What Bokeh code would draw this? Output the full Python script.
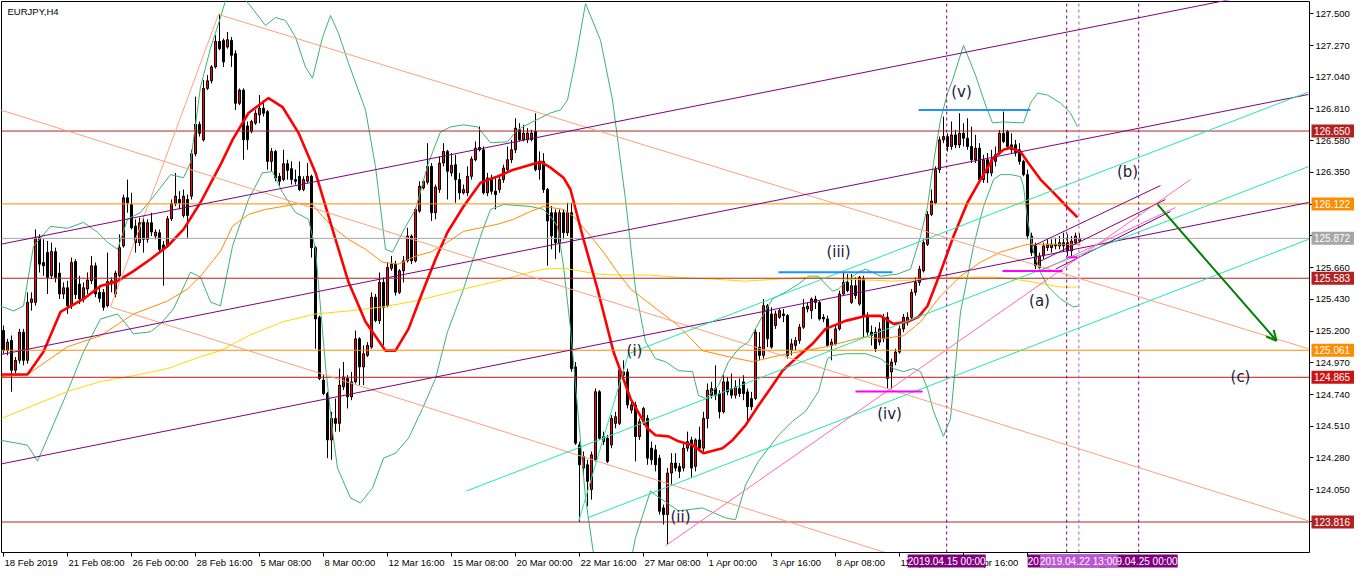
from bokeh.plotting import figure
from bokeh.models import (ColumnDataSource, FixedTicker, PrintfTickFormatter, Arrow, OpenHead, Range1d)
from bokeh.core.properties import value
from bokeh.embed import file_html
from bokeh.resources import INLINE

# ---------------- DATA (EURJPY H4, bar index = time) ----------------
opens = [125.204,125.060,125.132,124.916,124.988,125.192,124.988,125.408,125.408,125.877,
 125.697,125.769,125.601,125.776,125.620,125.469,125.514,125.384,125.704,125.541,
 125.433,125.505,125.565,125.673,125.481,125.481,125.384,125.541,125.469,125.601,
 125.817,126.166,126.118,125.961,125.841,125.990,125.865,125.985,125.889,125.913,
 125.824,125.817,126.014,126.125,126.154,126.038,126.154,126.178,126.485,126.699,
 126.586,126.959,127.014,127.115,127.300,127.307,127.259,127.307,127.211,126.851,
 126.947,126.687,126.646,126.707,126.767,126.815,126.791,126.430,126.502,126.322,
 126.298,126.413,126.377,126.298,126.322,126.226,126.286,126.322,125.805,125.300,
 124.844,124.747,124.411,124.567,124.531,124.796,124.856,124.723,124.832,125.144,
 124.940,125.024,125.084,125.445,125.276,125.553,125.384,125.654,125.685,125.481,
 125.637,125.709,125.889,125.709,126.070,126.238,126.279,126.394,126.058,126.226,
 126.418,126.502,126.346,126.406,126.298,126.202,126.202,126.322,126.442,126.531,
 126.514,126.202,126.310,126.214,126.226,126.298,126.370,126.442,126.514,126.659,
 126.587,126.587,126.587,126.647,126.370,126.430,126.226,126.058,126.058,125.841,
 126.058,125.913,126.058,124.940,124.375,124.207,124.231,124.051,124.267,124.760,
 124.399,124.423,124.375,124.531,124.531,124.880,124.904,124.627,124.664,124.435,
 124.543,124.567,124.351,124.339,124.279,123.918,123.870,124.171,124.243,124.219,
 124.207,124.351,124.411,124.219,124.411,124.351,124.567,124.735,124.783,124.747,
 124.615,124.832,124.783,124.735,124.783,124.832,124.759,124.711,124.711,125.084,
 125.024,125.384,125.324,125.240,125.300,125.324,125.312,125.060,125.096,125.132,
 125.228,125.360,125.348,125.432,125.408,125.300,125.288,125.096,125.108,125.216,
 125.469,125.553,125.408,125.529,125.396,125.577,125.300,125.192,125.192,125.120,
 125.144,125.300,124.904,124.976,125.048,125.216,125.276,125.300,125.481,125.553,
 125.637,125.829,126.045,126.130,126.370,126.586,126.610,126.538,126.622,126.550,
 126.634,126.598,126.538,126.442,126.526,126.298,126.442,126.346,126.430,126.490,
 126.634,126.646,126.550,126.550,126.514,126.430,126.334,125.889,125.817,125.661,
 125.745,125.805,125.805,125.829,125.817,125.841,125.841,125.781,125.841,125.853]
highs = [125.240,125.144,125.168,125.012,125.216,125.216,125.481,125.481,125.937,125.901,
 125.865,125.853,125.841,125.805,125.697,125.553,125.565,125.733,125.721,125.601,
 125.553,125.625,125.745,125.697,125.529,125.505,125.769,125.589,125.637,125.901,
 126.190,126.298,126.202,126.010,126.022,126.034,126.010,126.058,125.937,125.937,
 125.853,126.034,126.154,126.346,126.214,126.226,126.190,126.514,126.899,126.719,
 127.019,127.055,127.127,127.344,127.500,127.320,127.368,127.332,127.235,126.959,
 126.959,126.719,126.731,126.803,126.911,126.875,126.803,126.526,126.514,126.346,
 126.514,126.442,126.430,126.370,126.430,126.322,126.418,126.334,125.817,125.312,
 124.880,124.760,124.615,124.711,124.928,124.976,124.880,124.904,125.204,125.156,
 125.096,125.120,125.481,125.469,125.625,125.589,125.697,125.745,125.709,125.649,
 125.745,125.949,125.901,126.094,126.286,126.298,126.562,126.418,126.262,126.466,
 126.562,126.514,126.490,126.478,126.346,126.262,126.394,126.466,126.574,126.683,
 126.538,126.346,126.334,126.322,126.322,126.406,126.538,126.586,126.743,126.707,
 126.695,126.671,126.659,126.779,126.502,126.490,126.238,126.106,126.082,126.082,
 126.082,126.130,126.130,124.976,124.399,124.327,124.267,124.327,124.784,124.772,
 124.471,124.447,124.591,124.615,124.928,124.988,124.928,124.688,124.688,124.567,
 124.651,124.591,124.399,124.375,124.303,123.942,124.207,124.315,124.315,124.243,
 124.387,124.471,124.435,124.423,124.507,124.615,124.820,124.832,124.952,124.771,
 124.880,124.868,124.892,124.844,124.856,124.880,124.783,124.759,125.216,125.192,
 125.432,125.396,125.372,125.348,125.360,125.360,125.324,125.144,125.156,125.252,
 125.432,125.408,125.444,125.456,125.420,125.324,125.312,125.144,125.240,125.493,
 125.625,125.613,125.613,125.589,125.601,125.601,125.336,125.240,125.228,125.264,
 125.324,125.336,125.000,125.072,125.240,125.324,125.336,125.505,125.589,125.673,
 125.865,126.069,126.226,126.394,126.610,126.755,126.634,126.719,126.658,126.779,
 126.707,126.743,126.682,126.622,126.562,126.478,126.490,126.514,126.538,126.658,
 126.791,126.658,126.634,126.586,126.562,126.442,126.370,125.913,125.841,125.769,
 125.841,125.865,125.865,125.877,125.889,125.913,125.901,125.889,125.913,125.908]
lows = [125.036,125.024,124.760,124.892,124.964,124.952,124.964,125.348,125.384,125.625,
 125.601,125.469,125.577,125.553,125.433,125.433,125.324,125.360,125.433,125.396,
 125.408,125.469,125.541,125.445,125.408,125.348,125.372,125.481,125.445,125.589,
 125.805,126.058,125.937,125.769,125.817,125.769,125.841,125.889,125.865,125.769,
 125.529,125.805,125.998,126.106,126.082,126.022,125.877,126.154,126.466,126.610,
 126.574,126.947,126.995,127.103,127.235,127.115,127.247,127.115,126.803,126.839,
 126.442,126.514,126.634,126.695,126.707,126.755,126.370,126.358,126.286,126.250,
 126.286,126.298,126.262,126.262,126.214,126.214,126.274,125.733,125.072,124.844,
 124.735,124.279,124.267,124.471,124.471,124.772,124.639,124.699,124.820,124.808,
 124.808,125.012,125.072,125.264,125.252,125.096,125.372,125.637,125.457,125.469,
 125.553,125.697,125.685,125.697,126.058,126.226,126.262,125.998,126.010,126.202,
 126.394,126.154,126.322,126.130,126.154,126.190,126.178,126.298,126.430,126.502,
 126.190,126.178,126.190,126.082,126.202,126.274,126.346,126.418,126.490,126.575,
 126.575,126.562,126.575,126.358,126.298,126.202,125.673,125.793,125.721,125.769,
 125.865,125.889,124.904,124.375,123.815,124.159,123.930,123.978,124.255,124.411,
 124.375,124.243,124.351,124.495,124.519,124.856,124.639,124.603,124.255,124.411,
 124.519,124.231,124.231,124.183,123.870,123.798,123.654,124.087,124.183,124.135,
 124.183,124.327,124.135,124.183,124.327,124.327,124.495,124.711,124.699,124.567,
 124.603,124.735,124.711,124.711,124.723,124.699,124.543,124.627,124.699,124.988,
 125.000,125.084,125.072,125.216,125.288,125.264,125.000,125.024,125.060,125.108,
 125.216,125.336,125.288,125.360,125.276,125.264,125.084,124.988,125.096,125.204,
 125.457,125.481,125.396,125.433,125.384,125.156,125.168,125.096,125.048,125.096,
 125.120,124.783,124.783,124.952,125.036,125.192,125.240,125.276,125.457,125.529,
 125.625,125.817,126.033,126.118,126.346,126.562,126.502,126.514,126.526,126.526,
 126.538,126.514,126.418,126.418,126.274,126.274,126.274,126.322,126.394,126.478,
 126.562,126.514,126.490,126.466,126.406,126.322,125.865,125.745,125.649,125.649,
 125.721,125.781,125.769,125.793,125.793,125.781,125.745,125.745,125.829,125.841]
closes = [125.060,125.120,124.916,124.988,125.192,124.988,125.408,125.433,125.877,125.685,
 125.673,125.589,125.776,125.589,125.469,125.514,125.384,125.697,125.464,125.433,
 125.514,125.570,125.673,125.469,125.437,125.372,125.560,125.565,125.620,125.805,
 126.166,126.130,125.949,125.841,125.985,125.865,125.985,125.918,125.918,125.793,
 125.793,126.014,126.125,126.178,126.130,126.178,126.038,126.485,126.699,126.634,
 126.959,127.014,127.115,127.300,127.247,127.151,127.312,127.199,126.851,126.947,
 126.586,126.586,126.719,126.779,126.815,126.779,126.430,126.502,126.310,126.286,
 126.413,126.365,126.298,126.286,126.226,126.298,126.322,125.805,125.288,124.856,
 124.747,124.411,124.567,124.531,124.808,124.868,124.723,124.832,125.144,124.940,
 125.036,125.096,125.445,125.276,125.553,125.372,125.661,125.685,125.481,125.637,
 125.709,125.889,125.709,126.082,126.250,126.286,126.394,126.058,126.245,126.418,
 126.502,126.358,126.401,126.298,126.202,126.226,126.322,126.447,126.526,126.514,
 126.202,126.310,126.214,126.190,126.298,126.382,126.442,126.514,126.671,126.587,
 126.635,126.635,126.635,126.370,126.430,126.226,125.998,125.889,125.841,126.058,
 125.913,126.058,124.928,124.387,124.231,124.291,124.111,124.303,124.760,124.423,
 124.435,124.255,124.567,124.579,124.916,124.904,124.664,124.664,124.435,124.543,
 124.639,124.279,124.267,124.231,123.894,123.870,124.171,124.243,124.207,124.183,
 124.351,124.399,124.207,124.411,124.351,124.567,124.771,124.783,124.735,124.615,
 124.832,124.759,124.735,124.795,124.747,124.747,124.651,124.651,125.192,125.024,
 125.384,125.144,125.084,125.324,125.348,125.312,125.024,125.108,125.132,125.228,
 125.372,125.380,125.432,125.408,125.288,125.288,125.096,125.120,125.216,125.469,
 125.553,125.493,125.529,125.457,125.589,125.312,125.192,125.168,125.072,125.216,
 125.300,124.856,124.976,125.048,125.216,125.300,125.300,125.481,125.553,125.649,
 125.841,126.045,126.142,126.370,126.586,126.610,126.538,126.622,126.550,126.634,
 126.598,126.538,126.442,126.526,126.298,126.442,126.346,126.442,126.478,126.634,
 126.574,126.538,126.514,126.490,126.430,126.334,125.889,125.769,125.673,125.745,
 125.817,125.829,125.829,125.817,125.841,125.817,125.781,125.853,125.889,125.872]

# moving averages and bands, read as (bar, price) points
red_ma_x = [-0.5,6,10,14.25,20,24.25,28.5,32.5,36.75,41,45,49.25,54.25,57.25,61.25,66.25,69.75,73.75,78,82.25,
 86.25,90.5,95.5,98,101.25,104.75,108,111,115,119.25,123.5,127.5,131.75,134.25,136.75,140,141.75,145,148.5,152.5,
 156.75,161,163,166.25,168.75,172.25,175,179.75,182.25,185.5,188.75,192.25,194.75,198,202.25,205.5,210.5,215.5,219.25,222.5,
 226,228.75,231,234.25,237.5,241,244.25,247.5,250,251.75,254.25,256,259.25,262.5,266,268.5]
red_ma_y = [124.885,124.885,125.050,125.339,125.433,125.526,125.562,125.635,125.721,125.815,125.937,126.132,126.406,126.586,126.781,126.889,126.824,126.637,126.348,125.937,
 125.555,125.267,125.058,125.058,125.216,125.483,125.721,125.916,126.103,126.276,126.320,126.370,126.406,126.428,126.385,126.312,126.226,125.865,125.505,125.050,
 124.711,124.495,124.445,124.437,124.401,124.373,124.315,124.351,124.409,124.517,124.661,124.805,124.913,125.000,125.108,125.216,125.274,125.310,125.310,125.252,
 125.267,125.303,125.382,125.627,125.887,126.132,126.298,126.457,126.514,126.529,126.500,126.428,126.298,126.204,126.096,126.024]
orange_ma_x = [-0.5,6,16,24.25,32.5,41,46,49.25,54.25,57.25,61.25,65.5,69.75,73.75,77.25,79.75,83,86.25,90.5,94.75,98.75,
 103,106.75,111,115,123.5,127.5,131.75,135,140,142.5,146,150,153.5,156.75,161,168.75,174.75,181.25,187.25,193.75,
 200.5,205.5,210.5,215.5,219.25,225,229.25,234.25,239.25,244.25,249.25,254.25,256,269.25]
orange_ma_y = [124.870,124.885,125.086,125.166,125.324,125.418,125.505,125.598,125.779,125.959,126.046,126.082,126.103,126.125,126.118,126.031,125.937,125.865,125.793,125.699,125.685,
 125.743,125.772,125.844,125.923,125.974,126.010,126.067,126.103,126.082,126.031,125.916,125.772,125.627,125.505,125.411,125.238,125.058,125.014,124.978,125.022,
 125.058,125.086,125.123,125.159,125.144,125.166,125.267,125.454,125.598,125.699,125.772,125.815,125.829,125.829]
yellow_ma_x = [-0.5,7.5,16,24.25,32.5,41,49.25,54.25,61.25,69.75,78,86.25,94.75,103,108,115,123.5,131.75,135,140,
 144.25,148.5,153.5,161.75,171.25,177.25,185.5,193.75,202.25,210.5,222.5,231,239.25,247.5,252.5,257.5,264.25,268.5]
yellow_ma_y = [124.567,124.661,124.762,124.834,124.877,124.928,125.014,125.058,125.166,125.267,125.324,125.346,125.375,125.418,125.454,125.505,125.562,125.627,125.649,125.656,
 125.635,125.613,125.606,125.606,125.584,125.577,125.562,125.577,125.591,125.577,125.562,125.577,125.591,125.591,125.577,125.555,125.519,125.519]
band_up_x = [-0.75,2.5,5,7.5,11.75,16,20,23.5,26,28.5,31,34.25,38.5,41.75,45,46.75,49.25,51.75,54.25,55.5,
 58.5,61.25,65.5,68,70.5,73,75.5,77.25,79.75,81.75,83.75,86.25,90.5,93,95.5,97.25,99.75,103,106.25,109.25,
 111.75,115,118.5,121.75,126,128.5,131.75,134.25,136.75,139.25,141,143,145.5,149.25,152.25,155.5,158,160.5,163,165.5,
 168.75,172.25,173.75,175.5,178.75,181.25,183.75,186.25,189.75,192.25,195.5,198.75,201.25,203.75,205.5,207.25,208.75,210.5,213.75,215.5,
 219.25,223.5,226.75,229.25,231,232.5,234.25,236,237.25,240,243,245.5,247.25,250,255,256.75,258.5,261,264.25,266.75,268.5]
band_up_y = [125.382,125.346,125.382,125.815,125.959,125.945,125.988,125.916,125.844,125.793,126.010,126.060,126.211,126.334,126.312,126.421,126.969,127.250,127.473,127.596,
 127.668,127.574,127.416,127.473,127.452,127.329,127.113,127.033,127.329,127.488,127.358,127.142,126.803,126.392,125.793,125.772,125.916,126.082,126.421,126.644,
 126.680,126.695,126.680,126.565,126.572,126.659,126.709,126.745,126.781,126.803,126.875,127.163,127.574,127.308,126.875,126.154,125.505,125.123,125.000,124.978,
 124.913,124.906,124.733,124.711,124.805,124.978,125.072,125.123,125.310,125.433,125.483,125.541,125.598,125.598,125.541,125.490,125.505,125.555,125.627,125.649,
 125.598,125.613,125.649,125.887,126.103,126.421,126.731,126.925,127.019,127.271,127.055,126.839,126.709,126.716,126.709,126.853,126.925,126.911,126.853,126.781,126.680]
band_lo_x = [-0.75,6,8.5,11.75,16,20,24.25,28.5,31,32.5,36.75,39.25,42.5,46.75,49.25,51.75,54.25,57.25,61.25,64.75,
 67.25,69.75,73,76.25,78,80.5,82.25,83.5,86.75,89.25,92.25,95,98,101.25,104.75,108,111,115,119.25,121.75,
 125,131.75,135,136.75,138.5,140,141.75,143.75,145.5,148,151.75,155.5,158,161.75,163,168.75,174.75,180.5,183,185.5,
 188.75,193.75,197.25,200.5,203.75,206,207.25,210.5,215.5,219.25,222.5,225,227.5,229.25,231,232.5,235,236.75,239.25,242.5,
 245,247.5,249.25,251.75,254.25,255,256,257.5,259.25,261,264.25,267.5,268.75]
band_lo_y = [124.409,124.373,124.257,124.474,124.762,125.050,125.288,125.324,125.238,125.180,125.195,125.252,125.360,125.627,125.591,125.411,125.382,125.815,126.154,126.348,
 126.356,126.204,126.060,126.010,125.793,124.949,124.474,124.207,123.990,123.954,124.062,124.279,124.315,124.423,124.639,124.856,125.195,125.505,125.887,126.082,
 126.118,126.103,126.082,126.031,125.959,125.671,125.216,124.567,123.990,123.486,123.125,123.341,123.702,124.041,124.012,123.897,123.918,123.846,123.832,124.084,
 124.257,124.445,124.546,124.618,124.762,125.000,125.022,125.036,125.036,125.000,124.928,124.906,124.928,124.906,124.784,124.618,124.437,124.567,125.339,125.815,
 126.103,126.298,126.334,126.334,126.320,126.248,126.010,125.772,125.627,125.526,125.433,125.375,125.382]

# drawn objects: trend lines as (bar, price) end points
purple_x0 = [-0.75, -0.75, -0.75, 256.75, 259.25, 263.0]
purple_y0 = [125.829, 125.029, 124.236, 125.808, 125.707, 125.649]
purple_x1 = [326.25, 326.25, 326.25, 289.25, 290.5, 291.75]
purple_y1 = [127.716, 126.915, 126.132, 126.255, 126.154, 126.067]
cyan_x0 = [156.25, 115.75, 146.0, 143.75]
cyan_y0 = [125.036, 124.041, 123.846, 123.817]
cyan_x1 = [326.25, 326.25, 326.25, 156.25]
cyan_y1 = [126.933, 126.392, 125.865, 125.036]
salmon_x0 = [-0.75, 53.75, 26.75, 26.75]
salmon_y0 = [126.803, 127.495, 125.375, 125.375]
salmon_x1 = [326.25, 326.25, 220.4, 53.75]
salmon_y1 = [123.824, 125.072, 123.595, 127.495]
pink_x0 = [165.5, 259.25]
pink_y0 = [123.644, 125.635]
pink_x1 = [296.75, 293.0]
pink_y1 = [126.298, 126.096]
wave_top_x0 = [193.75, 228.75]
wave_top_x1 = [222.25, 256.75]
wave_top_y = [125.627, 126.803]
wave_low_x0 = [213.0, 249.75, 266.0]
wave_low_x1 = [229.75, 264.75, 268.5]
wave_low_y = [124.762, 125.635, 125.735]
arrow_x = [288.5, 318.25]
arrow_y = [126.118, 125.130]

wave_texts = ["(i)", "(ii)", "(iii)", "(iv)", "(v)", "(a)", "(b)", "(c)"]
wave_x = [157.75, 169.25, 208.75, 221.5, 239.5, 259.0, 281.0, 309.25]
wave_y = [125.058, 123.853, 125.772, 124.596, 126.933, 125.418, 126.356, 124.870]

level_prices = [126.650, 126.122, 125.872, 125.583, 125.061, 124.865, 123.816]
level_texts = ["126.650", "126.122", "125.872", "125.583", "125.061", "124.865", "123.816"]

vline_bars = [235.8, 265.8, 283.8, 268.85]
vline_texts = ["2019.04.15 00:00", "2019.04.22 01:00", "2019.04.25 00:00", "2019.04.22 13:00"]

time_tick_bars = [0, 16, 32, 48, 64, 80, 96, 112, 128, 144, 160, 176, 192, 208, 224, 240, 256]
time_tick_texts = ["18 Feb 2019", "21 Feb 08:00", "26 Feb 00:00", "28 Feb 16:00", "5 Mar 08:00",
                   "8 Mar 00:00", "12 Mar 16:00", "15 Mar 08:00", "20 Mar 00:00", "22 Mar 16:00",
                   "27 Mar 08:00", "1 Apr 00:00", "3 Apr 16:00", "8 Apr 08:00", "11 Apr 00:00",
                   "15 Apr 16:00", "18 Apr 08:00"]
price_ticks = [127.50, 127.27, 127.04, 126.81, 126.58, 126.35, 126.12, 125.89, 125.66,
               125.43, 125.20, 124.97, 124.74, 124.51, 124.28, 124.05, 123.82]

# ---------------- LAYOUT / STYLE ----------------
FONT = "Liberation Sans"
level_colors = ["#b22222", "#ff8c00", "#a6a6a6", "#b22222", "#ff8c00", "#c81414", "#b22222"]
vline_colors = ["#800080", "#800080", "#800080", "#ba55d3"]

W, H = 1354, 568                 # canvas = frame (axes are pinned inside it)
BAR_PX = 4.0
X_LEFT, X_RIGHT = -0.5, 326.5    # chart area in bars
Y_BOTTOM, Y_TOP = 123.595, 127.589
CHART_H = 551.0
PPU = CHART_H / (Y_TOP - Y_BOTTOM)   # pixels per price unit
XR0 = X_LEFT - 1.0 / BAR_PX
XR1 = XR0 + W / BAR_PX
YR1 = Y_TOP + 1.0 / PPU
YR0 = YR1 - H / PPU

def dx(px):
    return px / BAR_PX

def dy(px):
    return px / PPU

p = figure(frame_width=W, frame_height=H, x_range=Range1d(XR0, XR1), y_range=Range1d(YR0, YR1),
           output_backend="svg", toolbar_location=None, y_axis_location="right",
           min_border=0, min_border_left=0, min_border_right=0, min_border_top=0, min_border_bottom=0)
p.background_fill_color = "white"
p.border_fill_color = "white"
p.outline_line_color = None
p.grid.visible = False

# right price axis pinned to the chart's right edge
p.yaxis.fixed_location = X_RIGHT
p.yaxis.bounds = (Y_BOTTOM, Y_TOP)
p.yaxis.ticker = FixedTicker(ticks=price_ticks, minor_ticks=[])
p.yaxis.formatter = PrintfTickFormatter(format="%.3f")
p.yaxis.major_label_text_font = FONT
p.yaxis.major_label_text_font_size = "9.5px"
p.yaxis.major_label_text_color = "black"
p.yaxis.major_tick_out = 4
p.yaxis.major_tick_in = 0
p.yaxis.major_label_standoff = 2
p.yaxis.axis_line_color = "black"
p.yaxis.major_tick_line_color = "black"

# time axis pinned to the chart's bottom edge (labels drawn left-aligned below)
p.xaxis.fixed_location = Y_BOTTOM
p.xaxis.bounds = (X_LEFT, X_RIGHT)
p.xaxis.ticker = FixedTicker(ticks=time_tick_bars, minor_ticks=[])
p.xaxis.major_label_text_color = None
p.xaxis.major_tick_out = 4
p.xaxis.major_tick_in = 0
p.xaxis.axis_line_color = "black"
p.xaxis.major_tick_line_color = "black"

# chart border (left, top)
p.segment(x0=[X_LEFT, X_LEFT], y0=[Y_BOTTOM, Y_TOP], x1=[X_LEFT, X_RIGHT], y1=[Y_TOP, Y_TOP],
          line_color="black", line_width=1)

# candles
idx = list(range(len(closes)))
src = ColumnDataSource(dict(
    x=idx, h=highs, l=lows,
    top=[max(o, c) for o, c in zip(opens, closes)],
    bot=[min(o, c) for o, c in zip(opens, closes)],
    fill=["#ff0000" if c >= o else "#000000" for o, c in zip(opens, closes)]))
p.segment(x0="x", y0="l", x1="x", y1="h", source=src, line_color="black", line_width=1)
p.vbar(x="x", width=0.5, top="top", bottom="bot", fill_color="fill",
       line_color="black", line_width=1, source=src)

# indicators
p.line(band_up_x, band_up_y, line_color="#3cb371", line_width=1)
p.line(band_lo_x, band_lo_y, line_color="#3cb371", line_width=1)
p.line(yellow_ma_x, yellow_ma_y, line_color="#ffd700", line_width=1)
p.line(orange_ma_x, orange_ma_y, line_color="#ff8c00", line_width=1)
p.line(red_ma_x, red_ma_y, line_color="#ff0000", line_width=2.6)

# horizontal levels and vertical time markers (limited to the chart area)
p.segment(x0=[X_LEFT] * len(level_prices), y0=level_prices, x1=[X_RIGHT] * len(level_prices),
          y1=level_prices, line_color=level_colors, line_width=1)
p.segment(x0=vline_bars, y0=[Y_BOTTOM] * len(vline_bars), x1=vline_bars, y1=[Y_TOP] * len(vline_bars),
          line_color=vline_colors, line_width=1, line_dash="3 3")

# trend lines
p.segment(salmon_x0, salmon_y0, salmon_x1, salmon_y1, line_color="#ffa07a", line_width=1)
p.segment(purple_x0, purple_y0, purple_x1, purple_y1, line_color="#800080", line_width=1)
p.segment(cyan_x0, cyan_y0, cyan_x1, cyan_y1, line_color="#20e8b0", line_width=1)
p.segment(pink_x0, pink_y0, pink_x1, pink_y1, line_color="#ff69b4", line_width=1)
p.segment(wave_top_x0, wave_top_y, wave_top_x1, wave_top_y, line_color="#1e90ff", line_width=2)
p.segment(wave_low_x0, wave_low_y, wave_low_x1, wave_low_y, line_color="#ff00ff", line_width=2)

# wave labels
p.text(x=wave_x, y=wave_y, text=wave_texts, text_align="center", text_baseline="middle",
       text_font=value("DejaVu Sans"), text_font_size="15px", text_color="#1a1a3c")

# arrow
p.add_layout(Arrow(x_start=arrow_x[0], y_start=arrow_y[0], x_end=arrow_x[1], y_end=arrow_y[1],
                   line_color="#008000", line_width=2,
                   end=OpenHead(size=10, line_color="#008000", line_width=2)))

# white cover below the chart (hides line parts that leave the chart downward)
p.quad(left=[XR0], right=[XR1], bottom=[YR0], top=[Y_BOTTOM], fill_color="white", line_color=None)

# title
p.text(x=[X_LEFT + dx(6)], y=[Y_TOP - dy(4)], text=["EURJPY,H4"], text_align="left",
       text_baseline="top", text_font=value(FONT), text_font_size="9.5px", text_color="black")

# time labels, left aligned at their ticks
p.text(x=[b + dx(1) for b in time_tick_bars], y=[Y_BOTTOM - dy(4)] * len(time_tick_bars),
       text=time_tick_texts, text_align="left", text_baseline="top",
       text_font=value(FONT), text_font_size="9.5px", text_color="black")

# time boxes of the vertical markers
for vb, tt, col in zip(vline_bars, vline_texts, vline_colors):
    p.quad(left=[vb - dx(39)], right=[vb + dx(39)], bottom=[Y_BOTTOM - dy(15)], top=[Y_BOTTOM - dy(2)],
           fill_color=col, line_color=None)
    p.text(x=[vb], y=[Y_BOTTOM - dy(8.5)], text=[tt], text_align="center", text_baseline="middle",
           text_font=value(FONT), text_font_size="10px", text_color="white")

# price boxes on the price axis (drawn above the axis labels)
n = len(level_prices)
p.quad(left=[X_RIGHT + dx(2)] * n, right=[X_RIGHT + dx(44.5)] * n,
       bottom=[v - dy(6.5) for v in level_prices], top=[v + dy(6.5) for v in level_prices],
       fill_color=level_colors, line_color=None, level="overlay")
p.text(x=[X_RIGHT + dx(4.5)] * n, y=level_prices, text=level_texts, text_align="left",
       text_baseline="middle", text_font=value(FONT), text_font_size="10px", text_color="white",
       level="overlay")

open("out.html", "w").write(file_html(p, INLINE))
